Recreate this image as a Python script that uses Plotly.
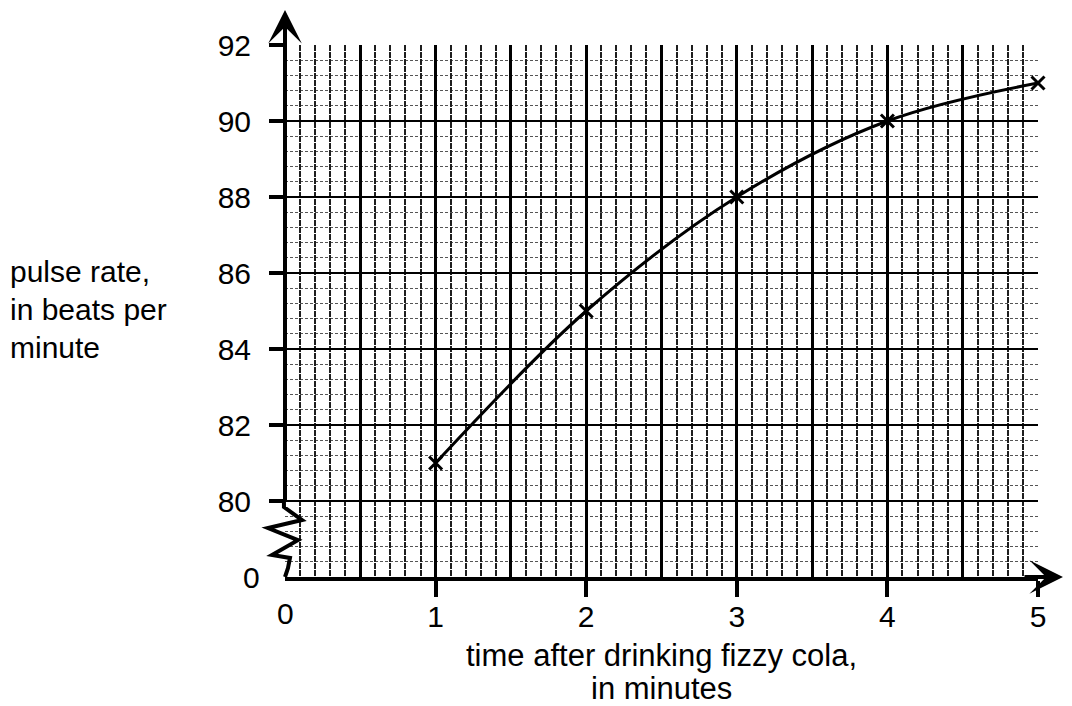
import plotly.graph_objects as go

# data
time_min = [1, 2, 3, 4, 5]
pulse_rate = [81, 85, 88, 90, 91]
x_tick_vals = [1, 2, 3, 4, 5]
x_tick_text = ["1", "2", "3", "4", "5"]
y_tick_vals = [80, 82, 84, 86, 88, 90, 92]
y_tick_text = ["80", "82", "84", "86", "88", "90", "92"]
y_break_pos = 78  # internal position where the "0" label sits (axis break)
X_RANGE = [0, 5]
Y_RANGE = [y_break_pos, 92]

# page has an 8px body margin: figure is placed at (8, 8)
OFF = 8
W, H = 1072 - 2 * OFF, 706 - OFF
PL, PT, PR, PB = 285, 45, 1038, 577          # plot area in screen px
L, T = PL - OFF, PT - OFF
R, B = W - (PR - OFF), H - (PB - OFF)
pw, ph = PR - PL, PB - PT
FONT = "Liberation Sans, Arial, sans-serif"


def px_x(sx):
    return (sx - PL) / pw


def px_y(sy):
    return (PB - sy) / ph


def dx(v):
    return (v - X_RANGE[0]) / (X_RANGE[1] - X_RANGE[0])


def dy(v):
    return (v - Y_RANGE[0]) / (Y_RANGE[1] - Y_RANGE[0])


fig = go.Figure()

# dummy trace on overlay axis (for the 0.5 / 0.1 vertical grid)
fig.add_trace(go.Scatter(x=X_RANGE, y=[80, 80], xaxis="x2", yaxis="y", mode="lines",
                         line=dict(width=0), opacity=0, hoverinfo="skip", showlegend=False))

fig.add_trace(go.Scatter(
    x=time_min, y=pulse_rate, mode="lines+markers",
    line=dict(color="black", width=3, shape="spline", smoothing=1),
    marker=dict(symbol="x-thin", size=13, line=dict(color="black", width=3)),
    cliponaxis=False, showlegend=False, hoverinfo="skip"))

fig.update_layout(
    width=W, height=H, margin=dict(l=L, r=R, t=T, b=B, pad=0),
    paper_bgcolor="white", plot_bgcolor="white",
    font=dict(family=FONT, size=30, color="black"),
    xaxis=dict(range=X_RANGE, tickmode="array", tickvals=x_tick_vals, ticktext=x_tick_text,
               ticks="outside", ticklen=16, tickwidth=4, tickcolor="black", ticklabelstandoff=-6,
               showgrid=False, zeroline=False, showline=True, linewidth=4, linecolor="black",
               tickfont=dict(size=30)),
    xaxis2=dict(range=X_RANGE, overlaying="x", matches="x", tickmode="linear", dtick=0.5, tick0=0,
                showticklabels=False, ticks="", zeroline=False, showline=False,
                showgrid=True, gridcolor="black", gridwidth=2.5,
                minor=dict(tickmode="linear", dtick=0.1, tick0=0, showgrid=True, gridcolor="#1e1e1e",
                           gridwidth=1.5, griddash="6px,1px", ticks="")),
    yaxis=dict(range=Y_RANGE, tickmode="array", tickvals=y_tick_vals, ticktext=y_tick_text,
               ticks="outside", ticklen=15, tickwidth=4, tickcolor="black", ticklabelstandoff=12,
               showgrid=True, gridcolor="black", gridwidth=2, zeroline=False, showline=False,
               minor=dict(tickmode="linear", dtick=0.4, tick0=0, showgrid=True, gridcolor="#555555",
                          gridwidth=1, griddash="3px,2px", ticks=""),
               tickfont=dict(size=30)),
)

# y axis line (above the break) and zigzag break, in paper coords (not clipped)
fig.add_shape(type="line", xref="paper", yref="paper", x0=0, x1=0, y0=dy(80), y1=1 + 14 / ph,
              line=dict(color="black", width=4))
zx = [-0.007, -0.007, 0.113, -0.113, 0.086, -0.086, 0.033, 0.02, 0.0]
zy = [80.0, 79.84, 79.5, 79.29, 78.97, 78.58, 78.5, 78.24, 78.0]
path = "M " + " L ".join(f"{dx(a):.5f},{dy(b):.5f}" for a, b in zip(zx, zy))
fig.add_shape(type="path", xref="paper", yref="paper", path=path,
              line=dict(color="black", width=4))

# axis arrows
fig.add_annotation(xref="paper", yref="paper", x=0, y=px_y(10), ax=0, ay=40,
                   axref="pixel", ayref="pixel", text="", showarrow=True,
                   arrowhead=3, arrowsize=1.4, arrowwidth=4, arrowcolor="black")
fig.add_annotation(xref="paper", yref="paper", x=px_x(1068), y=0, ax=-45, ay=0,
                   axref="pixel", ayref="pixel", text="", showarrow=True,
                   arrowhead=3, arrowsize=1.4, arrowwidth=4, arrowcolor="black")

# "0" labels at the origin (no tick marks there)
fig.add_annotation(xref="paper", yref="paper", x=0, y=px_y(613), text="0", showarrow=False,
                   font=dict(size=30), xanchor="center", yanchor="middle")
fig.add_annotation(xref="paper", yref="paper", x=px_x(262), y=0, text="0", showarrow=False,
                   font=dict(size=30), xanchor="right", yanchor="middle")

# axis titles
for i, line in enumerate(["pulse rate,", "in beats per", "minute"]):
    fig.add_annotation(xref="paper", yref="paper", x=px_x(8), y=px_y(271 + 38 * i),
                       text=line, showarrow=False, xanchor="left", yanchor="middle",
                       font=dict(size=30))
for i, line in enumerate(["time after drinking fizzy cola,", "in minutes"]):
    fig.add_annotation(xref="paper", yref="paper", x=px_x(661), y=px_y(655 + 33 * i),
                       text=line, showarrow=False, xanchor="center", yanchor="middle",
                       font=dict(size=31), borderpad=0)

fig.write_html("out.html")
